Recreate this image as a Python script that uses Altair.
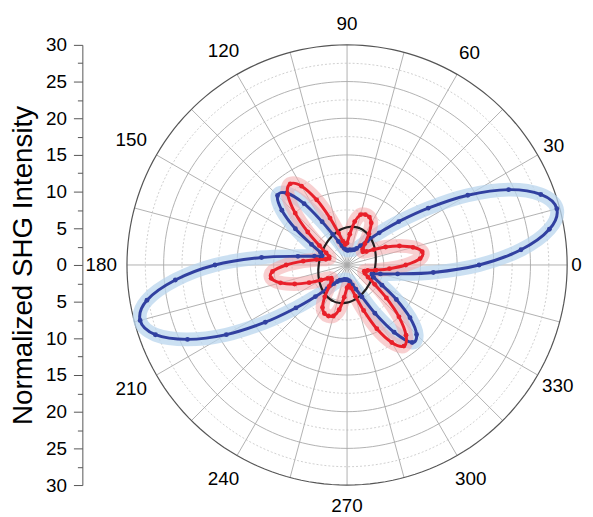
import altair as alt
import pandas as pd
import numpy as np

# ---------------- data (angle in degrees, radius in normalized intensity) ----------------
angles = list(range(0, 360, 5))

blue_r = [18.0, 23.8, 28.0, 29.6, 28.1, 24.3, 19.0, 13.5, 9.2, 6.2, 4.3, 3.2,
          2.6, 2.3, 2.2, 2.1, 2.1, 2.0, 2.0, 2.1, 2.3, 2.7, 3.4, 4.6,
          6.8, 10.2, 12.8, 13.4, 11.6, 8.6, 5.6, 4.0, 3.6, 4.6, 6.8, 11.7,
          18.0, 23.5, 27.7, 29.2, 27.8, 24.0, 19.0, 13.6, 9.1, 6.1, 4.2, 3.1,
          2.6, 2.3, 2.2, 2.1, 2.0, 2.0, 2.0, 2.1, 2.3, 2.8, 3.5, 4.8,
          7.6, 11.2, 13.8, 13.4, 11.2, 8.2, 5.5, 4.0, 3.6, 4.7, 7.0, 11.8]

red_r = [8.0, 10.0, 10.4, 9.3, 7.6, 5.8, 4.2, 3.2, 2.8, 3.0, 3.8, 5.2,
         6.6, 7.2, 7.3, 7.1, 6.0, 4.2, 3.0, 2.8, 3.3, 4.5, 6.8, 9.8,
         12.4, 13.5, 12.6, 10.0, 7.0, 4.6, 3.3, 2.7, 2.6, 3.0, 4.2, 6.0,
         8.3, 10.2, 10.5, 9.4, 7.6, 5.7, 4.1, 3.2, 2.8, 3.0, 3.8, 5.3,
         6.7, 7.3, 7.4, 7.2, 6.2, 4.4, 3.1, 2.8, 3.2, 4.4, 6.6, 9.6,
         12.2, 13.5, 12.5, 10.0, 7.0, 4.6, 3.3, 2.7, 2.5, 2.9, 4.0, 5.8]

black_r = [3.86, 3.91, 3.98, 4.05, 4.15, 4.25, 4.37, 4.50, 4.63, 4.77, 4.90, 5.03,
           5.14, 5.23, 5.28, 5.30, 5.28, 5.23, 5.14, 5.03, 4.90, 4.77, 4.63, 4.50,
           4.37, 4.25, 4.15, 4.05, 3.98, 3.91, 3.86, 3.83, 3.81, 3.80, 3.81, 3.83,
           3.86, 3.91, 3.98, 4.05, 4.15, 4.25, 4.37, 4.50, 4.63, 4.77, 4.90, 5.03,
           5.14, 5.23, 5.28, 5.30, 5.28, 5.23, 5.14, 5.03, 4.90, 4.77, 4.63, 4.50,
           4.37, 4.25, 4.15, 4.05, 3.98, 3.91, 3.86, 3.83, 3.81, 3.80, 3.81, 3.83]

grid_solid = [5, 10, 15, 20, 25]
grid_dotted = [2.5, 7.5, 12.5, 17.5, 22.5, 27.5]
grid_outer = [30]
spoke_angles = list(range(0, 360, 15))
label_angles = list(range(0, 360, 30))
axis_values = [-30 + 2.5 * i for i in range(25)]

RMAX = 30
FONT = "Liberation Sans"
PX = 7.4  # pixels per unit (444 px / 60 units)

# ---------------- tables ----------------
curves = pd.DataFrame({
    "series": ["blue"] * len(angles) + ["red"] * len(angles) + ["black"] * len(angles),
    "angle": angles * 3,
    "r": blue_r + red_r + black_r,
})

theta_steps = np.arange(0, 360, 2)
def circle_table(radii):
    rows = []
    for rr in radii:
        for t in theta_steps:
            rows.append({"rad": rr, "t": float(t)})
    return pd.DataFrame(rows)

spokes = pd.DataFrame({"angle": spoke_angles})
labels = pd.DataFrame({"angle": label_angles, "label": [str(a) for a in label_angles]})

axis = alt.Axis(
    values=axis_values,
    labelExpr="datum.value % 5 == 0 ? format(abs(datum.value), 'd') : ''",
    offset=45, grid=False,
    domainColor="#555555", tickColor="#555555",
    tickSize={"condition": {"test": "datum.value % 5 != 0", "value": 5}, "value": 9},
    labelFontSize=19, labelFont=FONT, labelColor="black", labelPadding=7,
    title="Normalized SHG Intensity", titleFont=FONT, titleFontSize=28,
    titleFontWeight="normal", titleColor="black", titlePadding=8,
)

sc = alt.Scale(domain=[-RMAX, RMAX], nice=False, zero=False)
Xn = lambda f: alt.X(f, type="quantitative", scale=sc, axis=None)
Yn = lambda f: alt.Y(f, type="quantitative", scale=sc, axis=axis)

def circles(radii, color, width, dash=None):
    kw = dict(color=color, strokeWidth=width, interpolate="linear-closed")
    if dash:
        kw["strokeDash"] = dash
    return alt.Chart(circle_table(radii)).mark_line(**kw).transform_calculate(
        x="datum.rad*cos(datum.t*PI/180)", y="datum.rad*sin(datum.t*PI/180)"
    ).encode(x=Xn("x"), y=Yn("y"), detail="rad:N", order="t:Q")

dotted = circles(grid_dotted, "#c4c4c4", 0.8, [2, 2])
solid = circles(grid_solid, "#a8a8a8", 0.9)
outer = circles(grid_outer, "#555555", 1.2)

spoke_layer = alt.Chart(spokes).mark_rule(color="#a8a8a8", strokeWidth=0.9).transform_calculate(
    x0="0", y0="0",
    x1=f"{RMAX}*cos(datum.angle*PI/180)", y1=f"{RMAX}*sin(datum.angle*PI/180)"
).encode(x=Xn("x0"), y=Yn("y0"), x2="x1:Q", y2="y1:Q")

label_layer = alt.Chart(labels).mark_text(fontSize=19, font=FONT, color="black",
                                          align="center", baseline="middle").transform_calculate(
    c="cos(datum.angle*PI/180)", s="sin(datum.angle*PI/180)"
).transform_calculate(
    lr=f"{RMAX} + (10 + abs(datum.c)*length(datum.label)*5.3 + abs(datum.s)*11 - (datum.c > 0.8 ? 6 : 0))/{PX}"
).transform_calculate(
    x="datum.lr*datum.c", y="datum.lr*datum.s"
).encode(x=Xn("x"), y=Yn("y"), text="label:N")

def base_of(name):
    return alt.Chart(curves).transform_filter(f"datum.series == '{name}'").transform_calculate(
        x="datum.r*cos(datum.angle*PI/180)", y="datum.r*sin(datum.angle*PI/180)"
    )

ENC = dict(x=Xn("x"), y=Yn("y"), order="angle:Q")

def halo(name, color, opacity):
    return base_of(name).mark_line(color=color, strokeWidth=14, opacity=opacity,
                                   interpolate="cardinal-closed", strokeCap="round",
                                   strokeJoin="round").encode(**ENC)

def line(name, color, width):
    return base_of(name).mark_line(color=color, strokeWidth=width,
                                   interpolate="cardinal-closed").encode(**ENC)

def dots(name, color):
    return base_of(name).mark_point(filled=True, color=color, size=24, opacity=1).encode(
        x=Xn("x"), y=Yn("y"))

BLUE, BLUE_H = "#3140a0", "#b9d5ee"
RED, RED_H = "#e8202a", "#f2a7a9"

chart = alt.layer(
    dotted, solid, spoke_layer, outer, label_layer,
    halo("blue", BLUE_H, 0.75), halo("red", RED_H, 0.55),
    line("black", "#231f20", 2.2),
    line("blue", BLUE, 3), dots("blue", BLUE),
    line("red", RED, 3), dots("red", RED),
).properties(
    width=444, height=444,
    padding={"left": 120, "top": 35, "right": 18, "bottom": 28},
    autosize=alt.AutoSizeParams(type="none"),
).configure_view(stroke=None)

chart.save("out.html", embed_options={"renderer": "svg", "actions": False})
